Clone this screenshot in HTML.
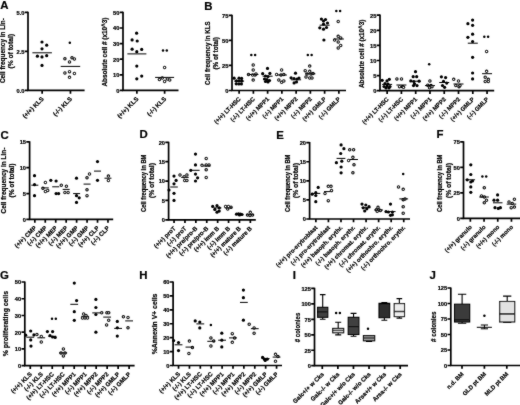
<!DOCTYPE html>
<html><head><meta charset="utf-8"><style>
html,body{margin:0;padding:0;background:#fff;width:520px;height:405px;overflow:hidden}
svg{display:block;filter:grayscale(1)}
text{stroke:#000;stroke-width:0.22px}
</style></head><body>
<svg width="520" height="405" viewBox="0 0 520 405" font-family='"Liberation Sans", sans-serif' font-weight="bold" fill="#000">
<defs><filter id="bl" x="0" y="0" width="1" height="1"><feConvolveMatrix order="3" kernelMatrix="1 2 1 2 28 2 1 2 1" edgeMode="duplicate" preserveAlpha="false"/></filter></defs>
<rect width="520" height="405" fill="#fff"/>
<g filter="url(#bl)">
<text x="0.2" y="9.3" font-size="11.4" >A</text>
<text transform="translate(4.8 50.6) rotate(-90)" font-size="6.5" text-anchor="middle" textLength="65" lengthAdjust="spacingAndGlyphs">Cell frequency in Lin-</text>
<text transform="translate(13.4 51.3) rotate(-90)" font-size="6.5" text-anchor="middle" textLength="34.6" lengthAdjust="spacingAndGlyphs">(% of total)</text>
<path d="M28 11.8V90.4H84.6" fill="none" stroke="#000" stroke-width="1.7"/>
<path d="M24.7 90.4H28M24.7 51.4H28M24.7 12.4H28M42.15 90.4V93.7M70.45 90.4V93.7" fill="none" stroke="#000" stroke-width="1.7"/>
<text x="24.4" y="92.7" font-size="5.7" text-anchor="end">0.0</text>
<text x="24.4" y="53.7" font-size="5.7" text-anchor="end">2.5</text>
<text x="24.4" y="14.7" font-size="5.7" text-anchor="end">5.0</text>
<text transform="translate(44.15 99.4) rotate(-45)" font-size="6.2" text-anchor="end">(+/+) KLS</text>
<text transform="translate(72.45 99.4) rotate(-45)" font-size="6.2" text-anchor="end">(-/-) KLS</text>
<circle cx="42" cy="42" r="1.6" fill="#000"/>
<circle cx="46.7" cy="45.2" r="1.6" fill="#000"/>
<circle cx="42" cy="48.8" r="1.6" fill="#000"/>
<circle cx="37.4" cy="56.2" r="1.6" fill="#000"/>
<circle cx="42" cy="56.9" r="1.6" fill="#000"/>
<circle cx="46.7" cy="55.7" r="1.6" fill="#000"/>
<circle cx="42" cy="65.4" r="1.6" fill="#000"/>
<path d="M32.4 52.8H51.9" stroke="#000" stroke-width="1.0"/>
<circle cx="64.9" cy="58.8" r="1.2" fill="#fff" stroke="#000" stroke-width="1.1"/>
<circle cx="72" cy="57.8" r="1.2" fill="#fff" stroke="#000" stroke-width="1.1"/>
<circle cx="74.4" cy="59" r="1.2" fill="#fff" stroke="#000" stroke-width="1.1"/>
<circle cx="69.5" cy="61.9" r="1.2" fill="#fff" stroke="#000" stroke-width="1.1"/>
<circle cx="64.9" cy="73" r="1.2" fill="#fff" stroke="#000" stroke-width="1.1"/>
<circle cx="69.5" cy="71.7" r="1.2" fill="#fff" stroke="#000" stroke-width="1.1"/>
<circle cx="74.4" cy="73.5" r="1.2" fill="#fff" stroke="#000" stroke-width="1.1"/>
<circle cx="69.5" cy="77.3" r="1.2" fill="#fff" stroke="#000" stroke-width="1.1"/>
<path d="M60.7 66.4H80.2" stroke="#000" stroke-width="1.0"/>
<circle cx="69.8" cy="42.7" r="1.25" fill="#000"/>
<text transform="translate(107.3 52) rotate(-90)" font-size="6.5" text-anchor="middle" textLength="69" lengthAdjust="spacingAndGlyphs">Absolute cell # (x10^3)</text>
<path d="M123 11.8V90.4H178.5" fill="none" stroke="#000" stroke-width="1.7"/>
<path d="M119.7 90.4H123M119.7 74.8H123M119.7 59.2H123M119.7 43.6H123M119.7 28H123M119.7 12.4H123M136.88 90.4V93.7M164.62 90.4V93.7" fill="none" stroke="#000" stroke-width="1.7"/>
<text x="119.4" y="92.7" font-size="5.7" text-anchor="end">0</text>
<text x="119.4" y="77.1" font-size="5.7" text-anchor="end">10</text>
<text x="119.4" y="61.5" font-size="5.7" text-anchor="end">20</text>
<text x="119.4" y="45.9" font-size="5.7" text-anchor="end">30</text>
<text x="119.4" y="30.3" font-size="5.7" text-anchor="end">40</text>
<text x="119.4" y="14.7" font-size="5.7" text-anchor="end">50</text>
<text transform="translate(138.88 99.4) rotate(-45)" font-size="6.2" text-anchor="end">(+/+) KLS</text>
<text transform="translate(166.62 99.4) rotate(-45)" font-size="6.2" text-anchor="end">(-/-) KLS</text>
<circle cx="136.6" cy="33.2" r="1.6" fill="#000"/>
<circle cx="132.1" cy="39.9" r="1.6" fill="#000"/>
<circle cx="137.2" cy="41" r="1.6" fill="#000"/>
<circle cx="132.1" cy="49.2" r="1.6" fill="#000"/>
<circle cx="136.8" cy="51.7" r="1.6" fill="#000"/>
<circle cx="141.7" cy="49.4" r="1.6" fill="#000"/>
<circle cx="136.8" cy="66.1" r="1.6" fill="#000"/>
<circle cx="136.8" cy="78.8" r="1.6" fill="#000"/>
<circle cx="141.7" cy="76.1" r="1.6" fill="#000"/>
<path d="M127.38 53.9H146.38" stroke="#000" stroke-width="1.0"/>
<circle cx="164.6" cy="67.5" r="1.2" fill="#fff" stroke="#000" stroke-width="1.1"/>
<circle cx="159.4" cy="79.6" r="1.2" fill="#fff" stroke="#000" stroke-width="1.1"/>
<circle cx="162.3" cy="78.1" r="1.2" fill="#fff" stroke="#000" stroke-width="1.1"/>
<circle cx="164.6" cy="81.5" r="1.2" fill="#fff" stroke="#000" stroke-width="1.1"/>
<circle cx="167.3" cy="79" r="1.2" fill="#fff" stroke="#000" stroke-width="1.1"/>
<circle cx="169.7" cy="80" r="1.2" fill="#fff" stroke="#000" stroke-width="1.1"/>
<path d="M155.12 77.4H174.12" stroke="#000" stroke-width="1.0"/>
<circle cx="163" cy="50.4" r="1.25" fill="#000"/>
<circle cx="166.8" cy="50.4" r="1.25" fill="#000"/>
<text x="204.2" y="9.6" font-size="11.4" >B</text>
<text transform="translate(210.4 53.2) rotate(-90)" font-size="6.5" text-anchor="middle" textLength="63.5" lengthAdjust="spacingAndGlyphs">Cell frequency in KLS</text>
<text transform="translate(218.3 53.3) rotate(-90)" font-size="6.5" text-anchor="middle" textLength="32.5" lengthAdjust="spacingAndGlyphs">(% of total)</text>
<path d="M232 14.8V90.5H346" fill="none" stroke="#000" stroke-width="1.7"/>
<path d="M228.7 90.5H232M228.7 65.47H232M228.7 40.43H232M228.7 15.4H232M239.12 90.5V93.8M253.38 90.5V93.8M267.62 90.5V93.8M281.88 90.5V93.8M296.12 90.5V93.8M310.38 90.5V93.8M324.62 90.5V93.8M338.88 90.5V93.8" fill="none" stroke="#000" stroke-width="1.7"/>
<text x="228.4" y="92.8" font-size="5.7" text-anchor="end">0</text>
<text x="228.4" y="67.77" font-size="5.7" text-anchor="end">25</text>
<text x="228.4" y="42.73" font-size="5.7" text-anchor="end">50</text>
<text x="228.4" y="17.7" font-size="5.7" text-anchor="end">75</text>
<text transform="translate(241.12 99.5) rotate(-45)" font-size="5.9" text-anchor="end">(+/+) LT-HSC</text>
<text transform="translate(255.38 99.5) rotate(-45)" font-size="5.9" text-anchor="end">(-/-) LT-HSC</text>
<text transform="translate(269.62 99.5) rotate(-45)" font-size="5.9" text-anchor="end">(+/+) MPP1</text>
<text transform="translate(283.88 99.5) rotate(-45)" font-size="5.9" text-anchor="end">(-/-) MPP1</text>
<text transform="translate(298.12 99.5) rotate(-45)" font-size="5.9" text-anchor="end">(+/+) MPP2</text>
<text transform="translate(312.38 99.5) rotate(-45)" font-size="5.9" text-anchor="end">(-/-) MPP2</text>
<text transform="translate(326.62 99.5) rotate(-45)" font-size="5.9" text-anchor="end">(+/+) GMLP</text>
<text transform="translate(340.88 99.5) rotate(-45)" font-size="5.9" text-anchor="end">(-/-) GMLP</text>
<circle cx="234.1" cy="78.2" r="1.6" fill="#000"/>
<circle cx="239" cy="78.2" r="1.6" fill="#000"/>
<circle cx="241.6" cy="78.4" r="1.6" fill="#000"/>
<circle cx="236.5" cy="80.9" r="1.6" fill="#000"/>
<circle cx="239.2" cy="81" r="1.6" fill="#000"/>
<circle cx="241.8" cy="81" r="1.6" fill="#000"/>
<circle cx="236.2" cy="83.8" r="1.6" fill="#000"/>
<circle cx="238.8" cy="84" r="1.6" fill="#000"/>
<circle cx="241.4" cy="83.9" r="1.6" fill="#000"/>
<path d="M234.12 81.1H244.12" stroke="#000" stroke-width="1.0"/>
<circle cx="253.2" cy="65" r="1.2" fill="#fff" stroke="#000" stroke-width="1.1"/>
<circle cx="253.2" cy="70" r="1.2" fill="#fff" stroke="#000" stroke-width="1.1"/>
<circle cx="248.5" cy="74.5" r="1.2" fill="#fff" stroke="#000" stroke-width="1.1"/>
<circle cx="252.6" cy="75" r="1.2" fill="#fff" stroke="#000" stroke-width="1.1"/>
<circle cx="255" cy="75" r="1.2" fill="#fff" stroke="#000" stroke-width="1.1"/>
<circle cx="256" cy="74" r="1.2" fill="#fff" stroke="#000" stroke-width="1.1"/>
<circle cx="253.2" cy="80.1" r="1.2" fill="#fff" stroke="#000" stroke-width="1.1"/>
<path d="M248.38 74.5H258.38" stroke="#000" stroke-width="1.0"/>
<circle cx="251.3" cy="55" r="1.25" fill="#000"/>
<circle cx="255.1" cy="55" r="1.25" fill="#000"/>
<circle cx="267.5" cy="68.4" r="1.6" fill="#000"/>
<circle cx="262.7" cy="73.7" r="1.6" fill="#000"/>
<circle cx="269.9" cy="73.4" r="1.6" fill="#000"/>
<circle cx="265.5" cy="76" r="1.6" fill="#000"/>
<circle cx="268" cy="76.5" r="1.6" fill="#000"/>
<circle cx="264.5" cy="79" r="1.6" fill="#000"/>
<circle cx="267" cy="79.5" r="1.6" fill="#000"/>
<circle cx="269.5" cy="80.5" r="1.6" fill="#000"/>
<circle cx="265.5" cy="81.5" r="1.6" fill="#000"/>
<circle cx="268" cy="82" r="1.6" fill="#000"/>
<path d="M262.62 76.2H272.62" stroke="#000" stroke-width="1.0"/>
<circle cx="281.6" cy="70" r="1.2" fill="#fff" stroke="#000" stroke-width="1.1"/>
<circle cx="276.6" cy="74.5" r="1.2" fill="#fff" stroke="#000" stroke-width="1.1"/>
<circle cx="281" cy="75" r="1.2" fill="#fff" stroke="#000" stroke-width="1.1"/>
<circle cx="283.8" cy="74.5" r="1.2" fill="#fff" stroke="#000" stroke-width="1.1"/>
<circle cx="278.8" cy="80" r="1.2" fill="#fff" stroke="#000" stroke-width="1.1"/>
<circle cx="281.6" cy="82.3" r="1.2" fill="#fff" stroke="#000" stroke-width="1.1"/>
<circle cx="283.8" cy="81" r="1.2" fill="#fff" stroke="#000" stroke-width="1.1"/>
<path d="M276.88 75H286.88" stroke="#000" stroke-width="1.0"/>
<circle cx="295.5" cy="73.2" r="1.6" fill="#000"/>
<circle cx="291.1" cy="77.8" r="1.6" fill="#000"/>
<circle cx="294" cy="78.5" r="1.6" fill="#000"/>
<circle cx="297" cy="79" r="1.6" fill="#000"/>
<circle cx="299" cy="78" r="1.6" fill="#000"/>
<circle cx="294.1" cy="82.9" r="1.6" fill="#000"/>
<circle cx="296.5" cy="82" r="1.6" fill="#000"/>
<path d="M291.12 79.8H301.12" stroke="#000" stroke-width="1.0"/>
<circle cx="309.7" cy="66.1" r="1.2" fill="#fff" stroke="#000" stroke-width="1.1"/>
<circle cx="305.2" cy="70.7" r="1.2" fill="#fff" stroke="#000" stroke-width="1.1"/>
<circle cx="309.7" cy="71.3" r="1.2" fill="#fff" stroke="#000" stroke-width="1.1"/>
<circle cx="307" cy="74" r="1.2" fill="#fff" stroke="#000" stroke-width="1.1"/>
<circle cx="311" cy="74" r="1.2" fill="#fff" stroke="#000" stroke-width="1.1"/>
<circle cx="313" cy="73.5" r="1.2" fill="#fff" stroke="#000" stroke-width="1.1"/>
<circle cx="306" cy="77" r="1.2" fill="#fff" stroke="#000" stroke-width="1.1"/>
<circle cx="309.7" cy="78" r="1.2" fill="#fff" stroke="#000" stroke-width="1.1"/>
<circle cx="312" cy="78" r="1.2" fill="#fff" stroke="#000" stroke-width="1.1"/>
<path d="M305.38 73.8H315.38" stroke="#000" stroke-width="1.0"/>
<circle cx="307.8" cy="54.9" r="1.25" fill="#000"/>
<circle cx="311.6" cy="54.9" r="1.25" fill="#000"/>
<circle cx="321.4" cy="19.1" r="1.6" fill="#000"/>
<circle cx="325.5" cy="19.5" r="1.6" fill="#000"/>
<circle cx="323.5" cy="21" r="1.6" fill="#000"/>
<circle cx="327.5" cy="23" r="1.6" fill="#000"/>
<circle cx="323.5" cy="24.2" r="1.6" fill="#000"/>
<circle cx="319.8" cy="27.8" r="1.6" fill="#000"/>
<circle cx="323.5" cy="29.2" r="1.6" fill="#000"/>
<circle cx="326.5" cy="27.5" r="1.6" fill="#000"/>
<circle cx="323.9" cy="40" r="1.6" fill="#000"/>
<path d="M319.62 25.2H329.62" stroke="#000" stroke-width="1.0"/>
<circle cx="338.2" cy="21.5" r="1.2" fill="#fff" stroke="#000" stroke-width="1.1"/>
<circle cx="338.2" cy="36.3" r="1.2" fill="#fff" stroke="#000" stroke-width="1.1"/>
<circle cx="334.6" cy="40" r="1.2" fill="#fff" stroke="#000" stroke-width="1.1"/>
<circle cx="340.7" cy="37.9" r="1.2" fill="#fff" stroke="#000" stroke-width="1.1"/>
<circle cx="338.2" cy="42" r="1.2" fill="#fff" stroke="#000" stroke-width="1.1"/>
<circle cx="340.7" cy="45.4" r="1.2" fill="#fff" stroke="#000" stroke-width="1.1"/>
<circle cx="338.2" cy="48" r="1.2" fill="#fff" stroke="#000" stroke-width="1.1"/>
<path d="M333.88 39H343.88" stroke="#000" stroke-width="1.0"/>
<circle cx="336.3" cy="11" r="1.25" fill="#000"/>
<circle cx="340.1" cy="11" r="1.25" fill="#000"/>
<text transform="translate(363.5 53.8) rotate(-90)" font-size="6.5" text-anchor="middle" textLength="68.5" lengthAdjust="spacingAndGlyphs">Absolute cell # (x10^3)</text>
<path d="M380 14.6V90.7H494.2" fill="none" stroke="#000" stroke-width="1.7"/>
<path d="M376.7 90.7H380M376.7 75.6H380M376.7 60.5H380M376.7 45.4H380M376.7 30.3H380M376.7 15.2H380M387.14 90.7V94M401.41 90.7V94M415.69 90.7V94M429.96 90.7V94M444.24 90.7V94M458.51 90.7V94M472.79 90.7V94M487.06 90.7V94" fill="none" stroke="#000" stroke-width="1.7"/>
<text x="376.4" y="93" font-size="5.7" text-anchor="end">0</text>
<text x="376.4" y="77.9" font-size="5.7" text-anchor="end">5</text>
<text x="376.4" y="62.8" font-size="5.7" text-anchor="end">10</text>
<text x="376.4" y="47.7" font-size="5.7" text-anchor="end">15</text>
<text x="376.4" y="32.6" font-size="5.7" text-anchor="end">20</text>
<text x="376.4" y="17.5" font-size="5.7" text-anchor="end">25</text>
<text transform="translate(389.14 99.7) rotate(-45)" font-size="5.9" text-anchor="end">(+/+) LT-HSC</text>
<text transform="translate(403.41 99.7) rotate(-45)" font-size="5.9" text-anchor="end">(-/-) LT-HSC</text>
<text transform="translate(417.69 99.7) rotate(-45)" font-size="5.9" text-anchor="end">(+/+) MPP1</text>
<text transform="translate(431.96 99.7) rotate(-45)" font-size="5.9" text-anchor="end">(-/-) MPP1</text>
<text transform="translate(446.24 99.7) rotate(-45)" font-size="5.9" text-anchor="end">(+/+) MPP2</text>
<text transform="translate(460.51 99.7) rotate(-45)" font-size="5.9" text-anchor="end">(-/-) MPP2</text>
<text transform="translate(474.79 99.7) rotate(-45)" font-size="5.9" text-anchor="end">(+/+) GMLP</text>
<text transform="translate(489.06 99.7) rotate(-45)" font-size="5.9" text-anchor="end">(-/-) GMLP</text>
<circle cx="382.2" cy="80.3" r="1.6" fill="#000"/>
<circle cx="387" cy="80.9" r="1.6" fill="#000"/>
<circle cx="389.3" cy="79.3" r="1.6" fill="#000"/>
<circle cx="385" cy="83.5" r="1.6" fill="#000"/>
<circle cx="388" cy="84" r="1.6" fill="#000"/>
<circle cx="384" cy="86.5" r="1.6" fill="#000"/>
<circle cx="387" cy="86.2" r="1.6" fill="#000"/>
<circle cx="390" cy="86.5" r="1.6" fill="#000"/>
<circle cx="386" cy="88" r="1.6" fill="#000"/>
<circle cx="389" cy="88" r="1.6" fill="#000"/>
<path d="M382.14 84.4H392.14" stroke="#000" stroke-width="1.0"/>
<circle cx="396.9" cy="78.9" r="1.2" fill="#fff" stroke="#000" stroke-width="1.1"/>
<circle cx="401.5" cy="78.9" r="1.2" fill="#fff" stroke="#000" stroke-width="1.1"/>
<circle cx="399.5" cy="86.7" r="1.2" fill="#fff" stroke="#000" stroke-width="1.1"/>
<circle cx="402.5" cy="86.7" r="1.2" fill="#fff" stroke="#000" stroke-width="1.1"/>
<circle cx="403.6" cy="87.3" r="1.2" fill="#fff" stroke="#000" stroke-width="1.1"/>
<path d="M396.41 85H406.41" stroke="#000" stroke-width="1.0"/>
<circle cx="415.5" cy="71.7" r="1.6" fill="#000"/>
<circle cx="413.2" cy="76.7" r="1.6" fill="#000"/>
<circle cx="416.7" cy="76.7" r="1.6" fill="#000"/>
<circle cx="410.8" cy="80.9" r="1.6" fill="#000"/>
<circle cx="413.8" cy="81.5" r="1.6" fill="#000"/>
<circle cx="419.1" cy="81.2" r="1.6" fill="#000"/>
<circle cx="414.5" cy="83.8" r="1.6" fill="#000"/>
<circle cx="413.5" cy="85.6" r="1.6" fill="#000"/>
<circle cx="417" cy="85.6" r="1.6" fill="#000"/>
<path d="M410.69 81.2H420.69" stroke="#000" stroke-width="1.0"/>
<circle cx="429.9" cy="81" r="1.2" fill="#fff" stroke="#000" stroke-width="1.1"/>
<circle cx="427.8" cy="85.2" r="1.2" fill="#fff" stroke="#000" stroke-width="1.1"/>
<circle cx="431" cy="85.6" r="1.2" fill="#fff" stroke="#000" stroke-width="1.1"/>
<circle cx="432" cy="86.7" r="1.2" fill="#fff" stroke="#000" stroke-width="1.1"/>
<circle cx="429.5" cy="87.8" r="1.2" fill="#fff" stroke="#000" stroke-width="1.1"/>
<path d="M424.96 85.6H434.96" stroke="#000" stroke-width="1.0"/>
<circle cx="429.2" cy="64.2" r="1.25" fill="#000"/>
<circle cx="441.4" cy="76.8" r="1.6" fill="#000"/>
<circle cx="445.6" cy="77.6" r="1.6" fill="#000"/>
<circle cx="443.5" cy="81.4" r="1.6" fill="#000"/>
<circle cx="446.7" cy="83.1" r="1.6" fill="#000"/>
<circle cx="442.5" cy="85.6" r="1.6" fill="#000"/>
<circle cx="444.6" cy="87.3" r="1.6" fill="#000"/>
<path d="M439.24 82.5H449.24" stroke="#000" stroke-width="1.0"/>
<circle cx="453.7" cy="79.3" r="1.2" fill="#fff" stroke="#000" stroke-width="1.1"/>
<circle cx="458.5" cy="81" r="1.2" fill="#fff" stroke="#000" stroke-width="1.1"/>
<circle cx="455.8" cy="85.6" r="1.2" fill="#fff" stroke="#000" stroke-width="1.1"/>
<circle cx="459" cy="86.7" r="1.2" fill="#fff" stroke="#000" stroke-width="1.1"/>
<circle cx="460" cy="85.6" r="1.2" fill="#fff" stroke="#000" stroke-width="1.1"/>
<path d="M453.51 84H463.51" stroke="#000" stroke-width="1.0"/>
<circle cx="472.6" cy="20.1" r="1.6" fill="#000"/>
<circle cx="467.9" cy="23.7" r="1.6" fill="#000"/>
<circle cx="472.6" cy="25.3" r="1.6" fill="#000"/>
<circle cx="472.6" cy="34.2" r="1.6" fill="#000"/>
<circle cx="467.9" cy="37.3" r="1.6" fill="#000"/>
<circle cx="472.6" cy="41.5" r="1.6" fill="#000"/>
<circle cx="472.6" cy="57.3" r="1.6" fill="#000"/>
<circle cx="472.6" cy="73" r="1.6" fill="#000"/>
<circle cx="472.6" cy="78.9" r="1.6" fill="#000"/>
<path d="M467.79 43.2H477.79" stroke="#000" stroke-width="1.0"/>
<circle cx="486.6" cy="51.4" r="1.2" fill="#fff" stroke="#000" stroke-width="1.1"/>
<circle cx="486.6" cy="71.3" r="1.2" fill="#fff" stroke="#000" stroke-width="1.1"/>
<circle cx="485.2" cy="77.2" r="1.2" fill="#fff" stroke="#000" stroke-width="1.1"/>
<circle cx="488.3" cy="79.3" r="1.2" fill="#fff" stroke="#000" stroke-width="1.1"/>
<circle cx="485.2" cy="81.4" r="1.2" fill="#fff" stroke="#000" stroke-width="1.1"/>
<circle cx="488.3" cy="81.4" r="1.2" fill="#fff" stroke="#000" stroke-width="1.1"/>
<path d="M482.06 73.7H492.06" stroke="#000" stroke-width="1.0"/>
<circle cx="484.3" cy="36.7" r="1.25" fill="#000"/>
<circle cx="488.1" cy="36.7" r="1.25" fill="#000"/>
<text x="0.5" y="138.7" font-size="11.4" >C</text>
<text transform="translate(5.6 180.5) rotate(-90)" font-size="6.5" text-anchor="middle" textLength="66" lengthAdjust="spacingAndGlyphs">Cell frequency in Lin-</text>
<text transform="translate(14.4 180.5) rotate(-90)" font-size="6.5" text-anchor="middle" textLength="34" lengthAdjust="spacingAndGlyphs">(% of total)</text>
<path d="M29.6 141.2V219.4H113.2" fill="none" stroke="#000" stroke-width="1.7"/>
<path d="M26.3 219.4H29.6M26.3 193.53H29.6M26.3 167.67H29.6M26.3 141.8H29.6M34.83 219.4V222.7M45.27 219.4V222.7M55.73 219.4V222.7M66.17 219.4V222.7M76.62 219.4V222.7M87.07 219.4V222.7M97.53 219.4V222.7M107.97 219.4V222.7" fill="none" stroke="#000" stroke-width="1.7"/>
<text x="26" y="221.7" font-size="5.7" text-anchor="end">0</text>
<text x="26" y="195.83" font-size="5.7" text-anchor="end">5</text>
<text x="26" y="169.97" font-size="5.7" text-anchor="end">10</text>
<text x="26" y="144.1" font-size="5.7" text-anchor="end">15</text>
<text transform="translate(36.83 228.4) rotate(-45)" font-size="6.1" text-anchor="end">(+/+) CMP</text>
<text transform="translate(47.27 228.4) rotate(-45)" font-size="6.1" text-anchor="end">(-/-) CMP</text>
<text transform="translate(57.73 228.4) rotate(-45)" font-size="6.1" text-anchor="end">(+/+) MEP</text>
<text transform="translate(68.17 228.4) rotate(-45)" font-size="6.1" text-anchor="end">(-/-) MEP</text>
<text transform="translate(78.62 228.4) rotate(-45)" font-size="6.1" text-anchor="end">(+/+) GMP</text>
<text transform="translate(89.07 228.4) rotate(-45)" font-size="6.1" text-anchor="end">(-/-) GMP</text>
<text transform="translate(99.53 228.4) rotate(-45)" font-size="6.1" text-anchor="end">(+/+) CLP</text>
<text transform="translate(109.97 228.4) rotate(-45)" font-size="6.1" text-anchor="end">(-/-) CLP</text>
<circle cx="34.5" cy="175.7" r="1.6" fill="#000"/>
<circle cx="34.5" cy="184.7" r="1.6" fill="#000"/>
<circle cx="34.5" cy="195.7" r="1.6" fill="#000"/>
<path d="M31.33 185.2H38.33" stroke="#000" stroke-width="1.0"/>
<circle cx="45.4" cy="182.4" r="1.2" fill="#fff" stroke="#000" stroke-width="1.1"/>
<circle cx="42.9" cy="188.3" r="1.2" fill="#fff" stroke="#000" stroke-width="1.1"/>
<circle cx="45.4" cy="191.5" r="1.2" fill="#fff" stroke="#000" stroke-width="1.1"/>
<circle cx="47.7" cy="190.4" r="1.2" fill="#fff" stroke="#000" stroke-width="1.1"/>
<path d="M41.77 187.9H48.77" stroke="#000" stroke-width="1.0"/>
<circle cx="50.8" cy="180.3" r="1.6" fill="#000"/>
<circle cx="56.1" cy="181" r="1.6" fill="#000"/>
<circle cx="56.1" cy="193.6" r="1.6" fill="#000"/>
<circle cx="58.6" cy="193.6" r="1.6" fill="#000"/>
<path d="M52.23 186.8H59.23" stroke="#000" stroke-width="1.0"/>
<circle cx="61.3" cy="185.2" r="1.2" fill="#fff" stroke="#000" stroke-width="1.1"/>
<circle cx="66.4" cy="186.2" r="1.2" fill="#fff" stroke="#000" stroke-width="1.1"/>
<circle cx="64.9" cy="192.5" r="1.2" fill="#fff" stroke="#000" stroke-width="1.1"/>
<circle cx="68.1" cy="192.5" r="1.2" fill="#fff" stroke="#000" stroke-width="1.1"/>
<path d="M62.67 189.4H69.67" stroke="#000" stroke-width="1.0"/>
<circle cx="76.5" cy="178.2" r="1.6" fill="#000"/>
<circle cx="76.5" cy="195.7" r="1.6" fill="#000"/>
<circle cx="79.2" cy="197.8" r="1.6" fill="#000"/>
<circle cx="76.5" cy="202.4" r="1.6" fill="#000"/>
<path d="M73.12 193.6H80.12" stroke="#000" stroke-width="1.0"/>
<circle cx="89.5" cy="174" r="1.2" fill="#fff" stroke="#000" stroke-width="1.1"/>
<circle cx="87" cy="177.8" r="1.2" fill="#fff" stroke="#000" stroke-width="1.1"/>
<circle cx="87" cy="189.8" r="1.2" fill="#fff" stroke="#000" stroke-width="1.1"/>
<circle cx="87" cy="195.7" r="1.2" fill="#fff" stroke="#000" stroke-width="1.1"/>
<path d="M83.57 184.1H90.57" stroke="#000" stroke-width="1.0"/>
<circle cx="97.5" cy="161.6" r="1.6" fill="#000"/>
<circle cx="97.5" cy="180.3" r="1.6" fill="#000"/>
<path d="M94.03 171.1H101.03" stroke="#000" stroke-width="1.0"/>
<circle cx="108.4" cy="176.1" r="1.2" fill="#fff" stroke="#000" stroke-width="1.1"/>
<circle cx="108.4" cy="180.5" r="1.2" fill="#fff" stroke="#000" stroke-width="1.1"/>
<path d="M104.47 178.2H111.47" stroke="#000" stroke-width="1.0"/>
<text x="139.6" y="138.4" font-size="11.4" >D</text>
<text transform="translate(145.5 183.3) rotate(-90)" font-size="6.5" text-anchor="middle" textLength="57.5" lengthAdjust="spacingAndGlyphs">Cell frequency in BM</text>
<text transform="translate(154.3 180.6) rotate(-90)" font-size="6.5" text-anchor="middle" textLength="35" lengthAdjust="spacingAndGlyphs">(% of total)</text>
<path d="M168.6 141.7V219.8H255.8" fill="none" stroke="#000" stroke-width="1.7"/>
<path d="M165.3 219.8H168.6M165.3 200.43H168.6M165.3 181.05H168.6M165.3 161.68H168.6M165.3 142.3H168.6M174.05 219.8V223.1M184.95 219.8V223.1M195.85 219.8V223.1M206.75 219.8V223.1M217.65 219.8V223.1M228.55 219.8V223.1M239.45 219.8V223.1M250.35 219.8V223.1" fill="none" stroke="#000" stroke-width="1.7"/>
<text x="165" y="222.1" font-size="5.7" text-anchor="end">0</text>
<text x="165" y="202.73" font-size="5.7" text-anchor="end">5</text>
<text x="165" y="183.35" font-size="5.7" text-anchor="end">10</text>
<text x="165" y="163.98" font-size="5.7" text-anchor="end">15</text>
<text x="165" y="144.6" font-size="5.7" text-anchor="end">20</text>
<text transform="translate(176.05 228.8) rotate(-45)" font-size="6.05" text-anchor="end">(+/+) proT</text>
<text transform="translate(186.95 228.8) rotate(-45)" font-size="6.05" text-anchor="end">(-/-) proT</text>
<text transform="translate(197.85 228.8) rotate(-45)" font-size="6.05" text-anchor="end">(+/+) pre/pro-B</text>
<text transform="translate(208.75 228.8) rotate(-45)" font-size="6.05" text-anchor="end">(-/-) pre/pro-B</text>
<text transform="translate(219.65 228.8) rotate(-45)" font-size="6.05" text-anchor="end">(+/+) imm B</text>
<text transform="translate(230.55 228.8) rotate(-45)" font-size="6.05" text-anchor="end">(-/-) imm B</text>
<text transform="translate(241.45 228.8) rotate(-45)" font-size="6.05" text-anchor="end">(+/+) mature B</text>
<text transform="translate(252.35 228.8) rotate(-45)" font-size="6.05" text-anchor="end">(-/-) mature B</text>
<circle cx="169" cy="190" r="1.6" fill="#000"/>
<circle cx="174" cy="176.1" r="1.6" fill="#000"/>
<circle cx="176.1" cy="180.4" r="1.6" fill="#000"/>
<circle cx="174" cy="183.8" r="1.6" fill="#000"/>
<circle cx="174" cy="193.3" r="1.6" fill="#000"/>
<circle cx="174" cy="200.4" r="1.6" fill="#000"/>
<path d="M170.3 187H177.8" stroke="#000" stroke-width="1.0"/>
<circle cx="180" cy="175" r="1.2" fill="#fff" stroke="#000" stroke-width="1.1"/>
<circle cx="184.1" cy="176.7" r="1.2" fill="#fff" stroke="#000" stroke-width="1.1"/>
<circle cx="186.9" cy="175" r="1.2" fill="#fff" stroke="#000" stroke-width="1.1"/>
<circle cx="184.7" cy="180.4" r="1.2" fill="#fff" stroke="#000" stroke-width="1.1"/>
<circle cx="186.9" cy="180.4" r="1.2" fill="#fff" stroke="#000" stroke-width="1.1"/>
<path d="M181.2 177.4H188.7" stroke="#000" stroke-width="1.0"/>
<circle cx="195.5" cy="154.1" r="1.6" fill="#000"/>
<circle cx="195.5" cy="164.9" r="1.6" fill="#000"/>
<circle cx="190.8" cy="170.3" r="1.6" fill="#000"/>
<circle cx="195.5" cy="174.1" r="1.6" fill="#000"/>
<circle cx="197.6" cy="177.8" r="1.6" fill="#000"/>
<circle cx="195.5" cy="181" r="1.6" fill="#000"/>
<path d="M192.1 170.3H199.6" stroke="#000" stroke-width="1.0"/>
<circle cx="206.2" cy="158.4" r="1.2" fill="#fff" stroke="#000" stroke-width="1.1"/>
<circle cx="202" cy="165.3" r="1.2" fill="#fff" stroke="#000" stroke-width="1.1"/>
<circle cx="206.2" cy="165" r="1.2" fill="#fff" stroke="#000" stroke-width="1.1"/>
<circle cx="209" cy="164.9" r="1.2" fill="#fff" stroke="#000" stroke-width="1.1"/>
<circle cx="206.2" cy="169.8" r="1.2" fill="#fff" stroke="#000" stroke-width="1.1"/>
<circle cx="206.2" cy="177.4" r="1.2" fill="#fff" stroke="#000" stroke-width="1.1"/>
<path d="M203 166H210.5" stroke="#000" stroke-width="1.0"/>
<circle cx="212.7" cy="206.4" r="1.6" fill="#000"/>
<circle cx="217" cy="205.7" r="1.6" fill="#000"/>
<circle cx="219.2" cy="207.9" r="1.6" fill="#000"/>
<circle cx="214.8" cy="209.4" r="1.6" fill="#000"/>
<circle cx="217" cy="212.2" r="1.6" fill="#000"/>
<circle cx="219.2" cy="211.1" r="1.6" fill="#000"/>
<path d="M213.9 207.9H221.4" stroke="#000" stroke-width="1.0"/>
<circle cx="225.6" cy="206.4" r="1.2" fill="#fff" stroke="#000" stroke-width="1.1"/>
<circle cx="228.4" cy="206.4" r="1.2" fill="#fff" stroke="#000" stroke-width="1.1"/>
<circle cx="231" cy="207.2" r="1.2" fill="#fff" stroke="#000" stroke-width="1.1"/>
<circle cx="227.7" cy="209" r="1.2" fill="#fff" stroke="#000" stroke-width="1.1"/>
<path d="M224.8 207.9H232.3" stroke="#000" stroke-width="1.0"/>
<circle cx="236.5" cy="214.2" r="1.6" fill="#000"/>
<circle cx="238.5" cy="213.8" r="1.6" fill="#000"/>
<circle cx="240.5" cy="214.2" r="1.6" fill="#000"/>
<circle cx="242" cy="214.5" r="1.6" fill="#000"/>
<circle cx="239.5" cy="215" r="1.6" fill="#000"/>
<path d="M235.7 214.5H243.2" stroke="#000" stroke-width="1.0"/>
<circle cx="247.5" cy="215" r="1.2" fill="#fff" stroke="#000" stroke-width="1.1"/>
<circle cx="250.3" cy="212.3" r="1.2" fill="#fff" stroke="#000" stroke-width="1.1"/>
<circle cx="252.5" cy="215" r="1.2" fill="#fff" stroke="#000" stroke-width="1.1"/>
<circle cx="250" cy="215.5" r="1.2" fill="#fff" stroke="#000" stroke-width="1.1"/>
<path d="M246.6 214.8H254.1" stroke="#000" stroke-width="1.0"/>
<text x="276.2" y="138.7" font-size="11.4" >E</text>
<text transform="translate(289.6 183.3) rotate(-90)" font-size="6.5" text-anchor="middle" textLength="57.5" lengthAdjust="spacingAndGlyphs">Cell frequency in BM</text>
<text transform="translate(298.2 180.6) rotate(-90)" font-size="6.5" text-anchor="middle" textLength="35" lengthAdjust="spacingAndGlyphs">(% of total)</text>
<path d="M309.6 142.1V219H410" fill="none" stroke="#000" stroke-width="1.7"/>
<path d="M306.3 219H309.6M306.3 199.93H309.6M306.3 180.85H309.6M306.3 161.77H309.6M306.3 142.7H309.6M315.88 219V222.3M328.43 219V222.3M340.98 219V222.3M353.53 219V222.3M366.07 219V222.3M378.62 219V222.3M391.18 219V222.3M403.73 219V222.3" fill="none" stroke="#000" stroke-width="1.7"/>
<text x="306" y="221.3" font-size="5.7" text-anchor="end">0</text>
<text x="306" y="202.23" font-size="5.7" text-anchor="end">5</text>
<text x="306" y="183.15" font-size="5.7" text-anchor="end">10</text>
<text x="306" y="164.07" font-size="5.7" text-anchor="end">15</text>
<text x="306" y="145" font-size="5.7" text-anchor="end">20</text>
<text transform="translate(317.88 228) rotate(-45)" font-size="5.9" text-anchor="end">(+/+) pro-erytroblast</text>
<text transform="translate(330.43 228) rotate(-45)" font-size="5.9" text-anchor="end">(-/-) pro-erytroblast</text>
<text transform="translate(342.98 228) rotate(-45)" font-size="5.9" text-anchor="end">(+/+) basoph. erythr.</text>
<text transform="translate(355.53 228) rotate(-45)" font-size="5.9" text-anchor="end">(-/-) basoph. erythr.</text>
<text transform="translate(368.07 228) rotate(-45)" font-size="5.9" text-anchor="end">(+/+) chromat. erythr.</text>
<text transform="translate(380.62 228) rotate(-45)" font-size="5.9" text-anchor="end">(-/-) chromat. erythr.</text>
<text transform="translate(393.18 228) rotate(-45)" font-size="5.9" text-anchor="end">(+/+) orthochro. erythr.</text>
<text transform="translate(405.73 228) rotate(-45)" font-size="5.9" text-anchor="end">(-/-) orthochro. erythr.</text>
<circle cx="312.2" cy="194.2" r="1.6" fill="#000"/>
<circle cx="318.2" cy="187.4" r="1.6" fill="#000"/>
<circle cx="315.8" cy="192.7" r="1.6" fill="#000"/>
<circle cx="315.8" cy="195.5" r="1.6" fill="#000"/>
<circle cx="315.8" cy="201.7" r="1.6" fill="#000"/>
<path d="M311.48 193.4H320.27" stroke="#000" stroke-width="1.0"/>
<circle cx="328.3" cy="186.3" r="1.2" fill="#fff" stroke="#000" stroke-width="1.1"/>
<circle cx="331" cy="186.3" r="1.2" fill="#fff" stroke="#000" stroke-width="1.1"/>
<circle cx="325" cy="193.4" r="1.2" fill="#fff" stroke="#000" stroke-width="1.1"/>
<circle cx="331.5" cy="190.6" r="1.2" fill="#fff" stroke="#000" stroke-width="1.1"/>
<circle cx="328.3" cy="200.7" r="1.2" fill="#fff" stroke="#000" stroke-width="1.1"/>
<path d="M324.03 191.6H332.82" stroke="#000" stroke-width="1.0"/>
<circle cx="341.1" cy="144.9" r="1.6" fill="#000"/>
<circle cx="343.9" cy="148.7" r="1.6" fill="#000"/>
<circle cx="340.7" cy="153.5" r="1.6" fill="#000"/>
<circle cx="336.4" cy="162.7" r="1.6" fill="#000"/>
<circle cx="341.8" cy="161.2" r="1.6" fill="#000"/>
<circle cx="341.1" cy="167" r="1.6" fill="#000"/>
<circle cx="341.1" cy="172.8" r="1.6" fill="#000"/>
<path d="M336.58 158.4H345.38" stroke="#000" stroke-width="1.0"/>
<circle cx="349.7" cy="149.8" r="1.2" fill="#fff" stroke="#000" stroke-width="1.1"/>
<circle cx="353.6" cy="149.8" r="1.2" fill="#fff" stroke="#000" stroke-width="1.1"/>
<circle cx="352.9" cy="157.3" r="1.2" fill="#fff" stroke="#000" stroke-width="1.1"/>
<circle cx="348.6" cy="160.5" r="1.2" fill="#fff" stroke="#000" stroke-width="1.1"/>
<circle cx="354" cy="164.8" r="1.2" fill="#fff" stroke="#000" stroke-width="1.1"/>
<circle cx="352.9" cy="172.8" r="1.2" fill="#fff" stroke="#000" stroke-width="1.1"/>
<path d="M349.13 159.5H357.93" stroke="#000" stroke-width="1.0"/>
<circle cx="362" cy="204.1" r="1.6" fill="#000"/>
<circle cx="365.8" cy="205" r="1.6" fill="#000"/>
<circle cx="369" cy="206.7" r="1.6" fill="#000"/>
<circle cx="363.2" cy="207.8" r="1.6" fill="#000"/>
<circle cx="366.8" cy="208.8" r="1.6" fill="#000"/>
<circle cx="364.7" cy="211" r="1.6" fill="#000"/>
<path d="M361.68 207.7H370.47" stroke="#000" stroke-width="1.0"/>
<circle cx="378" cy="207.3" r="1.2" fill="#fff" stroke="#000" stroke-width="1.1"/>
<circle cx="376.4" cy="209.7" r="1.2" fill="#fff" stroke="#000" stroke-width="1.1"/>
<circle cx="378.8" cy="209.7" r="1.2" fill="#fff" stroke="#000" stroke-width="1.1"/>
<circle cx="380.4" cy="210.5" r="1.2" fill="#fff" stroke="#000" stroke-width="1.1"/>
<circle cx="377.2" cy="211.3" r="1.2" fill="#fff" stroke="#000" stroke-width="1.1"/>
<path d="M374.23 210H383.02" stroke="#000" stroke-width="1.0"/>
<circle cx="390.5" cy="204.1" r="1.6" fill="#000"/>
<circle cx="386" cy="211.6" r="1.6" fill="#000"/>
<circle cx="388.4" cy="212" r="1.6" fill="#000"/>
<circle cx="392.4" cy="212" r="1.6" fill="#000"/>
<circle cx="390.5" cy="215.3" r="1.6" fill="#000"/>
<circle cx="392.4" cy="214.8" r="1.6" fill="#000"/>
<path d="M386.78 211.6H395.57" stroke="#000" stroke-width="1.0"/>
<circle cx="398.5" cy="186.9" r="1.2" fill="#fff" stroke="#000" stroke-width="1.1"/>
<circle cx="403.2" cy="189.3" r="1.2" fill="#fff" stroke="#000" stroke-width="1.1"/>
<circle cx="403.2" cy="199.7" r="1.2" fill="#fff" stroke="#000" stroke-width="1.1"/>
<circle cx="405" cy="199" r="1.2" fill="#fff" stroke="#000" stroke-width="1.1"/>
<circle cx="403.2" cy="206.8" r="1.2" fill="#fff" stroke="#000" stroke-width="1.1"/>
<circle cx="403.2" cy="213.2" r="1.2" fill="#fff" stroke="#000" stroke-width="1.1"/>
<path d="M399.33 198.9H408.12" stroke="#000" stroke-width="1.0"/>
<circle cx="403.2" cy="174.1" r="1.25" fill="#000"/>
<text x="436.6" y="138.4" font-size="11.4" >F</text>
<text transform="translate(442.2 183.3) rotate(-90)" font-size="6.5" text-anchor="middle" textLength="57.5" lengthAdjust="spacingAndGlyphs">Cell frequency in BM</text>
<text transform="translate(451.2 180.6) rotate(-90)" font-size="6.5" text-anchor="middle" textLength="35" lengthAdjust="spacingAndGlyphs">(% of total)</text>
<path d="M463.5 141.3V218.4H521" fill="none" stroke="#000" stroke-width="1.7"/>
<path d="M460.2 218.4H463.5M460.2 192.9H463.5M460.2 167.4H463.5M460.2 141.9H463.5M470.35 218.4V221.7M484.05 218.4V221.7M497.75 218.4V221.7M511.45 218.4V221.7" fill="none" stroke="#000" stroke-width="1.7"/>
<text x="459.9" y="220.7" font-size="5.7" text-anchor="end">0</text>
<text x="459.9" y="195.2" font-size="5.7" text-anchor="end">25</text>
<text x="459.9" y="169.7" font-size="5.7" text-anchor="end">50</text>
<text x="459.9" y="144.2" font-size="5.7" text-anchor="end">75</text>
<text transform="translate(472.35 227.4) rotate(-45)" font-size="5.9" text-anchor="end">(+/+) granulo</text>
<text transform="translate(486.05 227.4) rotate(-45)" font-size="5.9" text-anchor="end">(-/-) granulo</text>
<text transform="translate(499.75 227.4) rotate(-45)" font-size="5.9" text-anchor="end">(+/+) mono</text>
<text transform="translate(513.45 227.4) rotate(-45)" font-size="5.9" text-anchor="end">(-/-) mono</text>
<circle cx="470.8" cy="164.8" r="1.6" fill="#000"/>
<circle cx="470.8" cy="174.5" r="1.6" fill="#000"/>
<circle cx="467.2" cy="179.8" r="1.6" fill="#000"/>
<circle cx="470.8" cy="182" r="1.6" fill="#000"/>
<circle cx="472.5" cy="181" r="1.6" fill="#000"/>
<circle cx="470.8" cy="186.9" r="1.6" fill="#000"/>
<circle cx="470.8" cy="192.3" r="1.6" fill="#000"/>
<path d="M465.6 179.8H475.1" stroke="#000" stroke-width="1.0"/>
<circle cx="484.3" cy="187.8" r="1.2" fill="#fff" stroke="#000" stroke-width="1.1"/>
<circle cx="481.5" cy="195.9" r="1.2" fill="#fff" stroke="#000" stroke-width="1.1"/>
<circle cx="484.3" cy="197" r="1.2" fill="#fff" stroke="#000" stroke-width="1.1"/>
<circle cx="486.5" cy="200.2" r="1.2" fill="#fff" stroke="#000" stroke-width="1.1"/>
<circle cx="484.3" cy="202.8" r="1.2" fill="#fff" stroke="#000" stroke-width="1.1"/>
<path d="M479.3 197H488.8" stroke="#000" stroke-width="1.0"/>
<circle cx="482.4" cy="176.6" r="1.25" fill="#000"/>
<circle cx="486.2" cy="176.6" r="1.25" fill="#000"/>
<circle cx="497.6" cy="194.9" r="1.6" fill="#000"/>
<circle cx="494" cy="200.2" r="1.6" fill="#000"/>
<circle cx="497.6" cy="200.2" r="1.6" fill="#000"/>
<circle cx="495" cy="207.7" r="1.6" fill="#000"/>
<circle cx="498.3" cy="208.4" r="1.6" fill="#000"/>
<circle cx="500.4" cy="207.7" r="1.6" fill="#000"/>
<path d="M493 202.8H502.5" stroke="#000" stroke-width="1.0"/>
<circle cx="514.4" cy="199.2" r="1.2" fill="#fff" stroke="#000" stroke-width="1.1"/>
<circle cx="509" cy="202" r="1.2" fill="#fff" stroke="#000" stroke-width="1.1"/>
<circle cx="512.2" cy="203.5" r="1.2" fill="#fff" stroke="#000" stroke-width="1.1"/>
<circle cx="511.2" cy="207.7" r="1.2" fill="#fff" stroke="#000" stroke-width="1.1"/>
<circle cx="514.4" cy="207.1" r="1.2" fill="#fff" stroke="#000" stroke-width="1.1"/>
<path d="M506.7 204.1H516.2" stroke="#000" stroke-width="1.0"/>
<text x="0" y="278.6" font-size="11.4" >G</text>
<text transform="translate(8.1 323.6) rotate(-90)" font-size="6.85" text-anchor="middle" textLength="65.2" lengthAdjust="spacingAndGlyphs">% proliferating cells</text>
<path d="M24.8 281.4V365.7H134.6" fill="none" stroke="#000" stroke-width="1.7"/>
<path d="M21.5 365.7H24.8M21.5 348.96H24.8M21.5 332.22H24.8M21.5 315.48H24.8M21.5 298.74H24.8M21.5 282H24.8M30.29 365.7V369M41.27 365.7V369M52.25 365.7V369M63.23 365.7V369M74.21 365.7V369M85.19 365.7V369M96.17 365.7V369M107.15 365.7V369M118.13 365.7V369M129.11 365.7V369" fill="none" stroke="#000" stroke-width="1.7"/>
<text x="21.2" y="368" font-size="5.7" text-anchor="end">0</text>
<text x="21.2" y="351.26" font-size="5.7" text-anchor="end">10</text>
<text x="21.2" y="334.52" font-size="5.7" text-anchor="end">20</text>
<text x="21.2" y="317.78" font-size="5.7" text-anchor="end">30</text>
<text x="21.2" y="301.04" font-size="5.7" text-anchor="end">40</text>
<text x="21.2" y="284.3" font-size="5.7" text-anchor="end">50</text>
<text transform="translate(32.29 374.7) rotate(-45)" font-size="6.1" text-anchor="end">(+/+) KLS</text>
<text transform="translate(43.27 374.7) rotate(-45)" font-size="6.1" text-anchor="end">(-/-) KLS</text>
<text transform="translate(54.25 374.7) rotate(-45)" font-size="6.1" text-anchor="end">(+/+) LT-HSC</text>
<text transform="translate(65.23 374.7) rotate(-45)" font-size="6.1" text-anchor="end">(-/-) LT-HSC</text>
<text transform="translate(76.21 374.7) rotate(-45)" font-size="6.1" text-anchor="end">(+/+) MPP1</text>
<text transform="translate(87.19 374.7) rotate(-45)" font-size="6.1" text-anchor="end">(-/-) MPP1</text>
<text transform="translate(98.17 374.7) rotate(-45)" font-size="6.1" text-anchor="end">(+/+) MPP2</text>
<text transform="translate(109.15 374.7) rotate(-45)" font-size="6.1" text-anchor="end">(-/-) MPP2</text>
<text transform="translate(120.13 374.7) rotate(-45)" font-size="6.1" text-anchor="end">(+/+) GMLP</text>
<text transform="translate(131.11 374.7) rotate(-45)" font-size="6.1" text-anchor="end">(-/-) GMLP</text>
<circle cx="25.7" cy="335.2" r="1.6" fill="#000"/>
<circle cx="30.7" cy="331" r="1.6" fill="#000"/>
<circle cx="30.7" cy="339.9" r="1.6" fill="#000"/>
<circle cx="31" cy="346.1" r="1.6" fill="#000"/>
<circle cx="33.9" cy="334.9" r="1.6" fill="#000"/>
<path d="M26.39 337.2H34.19" stroke="#000" stroke-width="1.0"/>
<circle cx="36.9" cy="334.6" r="1.2" fill="#fff" stroke="#000" stroke-width="1.1"/>
<circle cx="41.3" cy="336.4" r="1.2" fill="#fff" stroke="#000" stroke-width="1.1"/>
<circle cx="41.3" cy="342" r="1.2" fill="#fff" stroke="#000" stroke-width="1.1"/>
<path d="M37.37 337.8H45.17" stroke="#000" stroke-width="1.0"/>
<circle cx="47.4" cy="331.6" r="1.6" fill="#000"/>
<circle cx="52.6" cy="331.6" r="1.6" fill="#000"/>
<circle cx="50" cy="335.7" r="1.6" fill="#000"/>
<circle cx="52.6" cy="337" r="1.6" fill="#000"/>
<circle cx="55.2" cy="337.4" r="1.6" fill="#000"/>
<path d="M48.35 336.3H56.15" stroke="#000" stroke-width="1.0"/>
<circle cx="52" cy="318.7" r="1.25" fill="#000"/>
<circle cx="55.8" cy="318.7" r="1.25" fill="#000"/>
<circle cx="63.4" cy="348.9" r="1.2" fill="#fff" stroke="#000" stroke-width="1.1"/>
<circle cx="61" cy="352.9" r="1.2" fill="#fff" stroke="#000" stroke-width="1.1"/>
<circle cx="65" cy="352.9" r="1.2" fill="#fff" stroke="#000" stroke-width="1.1"/>
<circle cx="63.4" cy="355.9" r="1.2" fill="#fff" stroke="#000" stroke-width="1.1"/>
<path d="M59.33 352.9H67.13" stroke="#000" stroke-width="1.0"/>
<circle cx="74.3" cy="283.1" r="1.6" fill="#000"/>
<circle cx="76.6" cy="300.6" r="1.6" fill="#000"/>
<circle cx="74.3" cy="311.7" r="1.6" fill="#000"/>
<circle cx="74.3" cy="320.3" r="1.6" fill="#000"/>
<path d="M70.31 304.3H78.11" stroke="#000" stroke-width="1.0"/>
<circle cx="83.6" cy="314" r="1.2" fill="#fff" stroke="#000" stroke-width="1.1"/>
<circle cx="86" cy="315.5" r="1.2" fill="#fff" stroke="#000" stroke-width="1.1"/>
<circle cx="82.5" cy="318" r="1.2" fill="#fff" stroke="#000" stroke-width="1.1"/>
<circle cx="85" cy="318" r="1.2" fill="#fff" stroke="#000" stroke-width="1.1"/>
<circle cx="87.5" cy="318" r="1.2" fill="#fff" stroke="#000" stroke-width="1.1"/>
<path d="M81.29 316.4H89.09" stroke="#000" stroke-width="1.0"/>
<circle cx="95.9" cy="299.4" r="1.6" fill="#000"/>
<circle cx="95.9" cy="307.5" r="1.6" fill="#000"/>
<circle cx="95.9" cy="314.5" r="1.6" fill="#000"/>
<circle cx="95.9" cy="332.2" r="1.6" fill="#000"/>
<path d="M92.27 312.9H100.07" stroke="#000" stroke-width="1.0"/>
<circle cx="101.7" cy="312.8" r="1.2" fill="#fff" stroke="#000" stroke-width="1.1"/>
<circle cx="106.9" cy="312.8" r="1.2" fill="#fff" stroke="#000" stroke-width="1.1"/>
<circle cx="108.7" cy="312.8" r="1.2" fill="#fff" stroke="#000" stroke-width="1.1"/>
<circle cx="108.7" cy="320.2" r="1.2" fill="#fff" stroke="#000" stroke-width="1.1"/>
<circle cx="106.6" cy="324.9" r="1.2" fill="#fff" stroke="#000" stroke-width="1.1"/>
<path d="M103.25 317.1H111.05" stroke="#000" stroke-width="1.0"/>
<circle cx="117.3" cy="321.4" r="1.6" fill="#000"/>
<circle cx="117.3" cy="327.8" r="1.6" fill="#000"/>
<circle cx="117.3" cy="336.1" r="1.6" fill="#000"/>
<path d="M114.23 328.4H122.03" stroke="#000" stroke-width="1.0"/>
<circle cx="123.4" cy="316.8" r="1.2" fill="#fff" stroke="#000" stroke-width="1.1"/>
<circle cx="128" cy="317.5" r="1.2" fill="#fff" stroke="#000" stroke-width="1.1"/>
<circle cx="128" cy="327.8" r="1.2" fill="#fff" stroke="#000" stroke-width="1.1"/>
<path d="M125.21 320.9H133.01" stroke="#000" stroke-width="1.0"/>
<text x="139.3" y="279.1" font-size="11.4" >H</text>
<text transform="translate(157.3 324) rotate(-90)" font-size="6.85" text-anchor="middle" textLength="60.7" lengthAdjust="spacingAndGlyphs">%Annexin V+ cells</text>
<path d="M173.1 281.4V365.5H282" fill="none" stroke="#000" stroke-width="1.7"/>
<path d="M169.8 365.5H173.1M169.8 351.58H173.1M169.8 337.67H173.1M169.8 323.75H173.1M169.8 309.83H173.1M169.8 295.92H173.1M169.8 282H173.1M178.54 365.5V368.8M189.44 365.5V368.8M200.32 365.5V368.8M211.22 365.5V368.8M222.1 365.5V368.8M233 365.5V368.8M243.88 365.5V368.8M254.78 365.5V368.8M265.66 365.5V368.8M276.56 365.5V368.8" fill="none" stroke="#000" stroke-width="1.7"/>
<text x="169.5" y="367.8" font-size="5.7" text-anchor="end">0</text>
<text x="169.5" y="353.88" font-size="5.7" text-anchor="end">10</text>
<text x="169.5" y="339.97" font-size="5.7" text-anchor="end">20</text>
<text x="169.5" y="326.05" font-size="5.7" text-anchor="end">30</text>
<text x="169.5" y="312.13" font-size="5.7" text-anchor="end">40</text>
<text x="169.5" y="298.22" font-size="5.7" text-anchor="end">50</text>
<text x="169.5" y="284.3" font-size="5.7" text-anchor="end">60</text>
<text transform="translate(180.54 374.5) rotate(-45)" font-size="6.1" text-anchor="end">(+/+) KLS</text>
<text transform="translate(191.44 374.5) rotate(-45)" font-size="6.1" text-anchor="end">(-/-) KLS</text>
<text transform="translate(202.32 374.5) rotate(-45)" font-size="6.1" text-anchor="end">(+/+) LT-HSC</text>
<text transform="translate(213.22 374.5) rotate(-45)" font-size="6.1" text-anchor="end">(-/-) LT-HSC</text>
<text transform="translate(224.1 374.5) rotate(-45)" font-size="6.1" text-anchor="end">(+/+) MPP1</text>
<text transform="translate(235 374.5) rotate(-45)" font-size="6.1" text-anchor="end">(-/-) MPP1</text>
<text transform="translate(245.88 374.5) rotate(-45)" font-size="6.1" text-anchor="end">(+/+) MPP2</text>
<text transform="translate(256.77 374.5) rotate(-45)" font-size="6.1" text-anchor="end">(-/-) MPP2</text>
<text transform="translate(267.66 374.5) rotate(-45)" font-size="6.1" text-anchor="end">(+/+) GMLP</text>
<text transform="translate(278.56 374.5) rotate(-45)" font-size="6.1" text-anchor="end">(-/-) GMLP</text>
<circle cx="173.6" cy="340.6" r="1.6" fill="#000"/>
<circle cx="178.5" cy="342.5" r="1.6" fill="#000"/>
<circle cx="178.5" cy="350.6" r="1.6" fill="#000"/>
<path d="M174.64 344.8H182.44" stroke="#000" stroke-width="1.0"/>
<circle cx="189.4" cy="341.1" r="1.2" fill="#fff" stroke="#000" stroke-width="1.1"/>
<circle cx="192.4" cy="347.6" r="1.2" fill="#fff" stroke="#000" stroke-width="1.1"/>
<circle cx="188.9" cy="353.4" r="1.2" fill="#fff" stroke="#000" stroke-width="1.1"/>
<path d="M185.53 347.1H193.34" stroke="#000" stroke-width="1.0"/>
<circle cx="195.2" cy="320.9" r="1.6" fill="#000"/>
<circle cx="199.8" cy="322.1" r="1.6" fill="#000"/>
<circle cx="199.8" cy="327.9" r="1.6" fill="#000"/>
<path d="M196.42 323.9H204.22" stroke="#000" stroke-width="1.0"/>
<circle cx="210.9" cy="337.9" r="1.2" fill="#fff" stroke="#000" stroke-width="1.1"/>
<circle cx="213.7" cy="341.1" r="1.2" fill="#fff" stroke="#000" stroke-width="1.1"/>
<circle cx="210.9" cy="346" r="1.2" fill="#fff" stroke="#000" stroke-width="1.1"/>
<path d="M207.31 341.3H215.12" stroke="#000" stroke-width="1.0"/>
<circle cx="210.9" cy="325.1" r="1.25" fill="#000"/>
<circle cx="221.8" cy="333.2" r="1.6" fill="#000"/>
<circle cx="221.8" cy="340.2" r="1.6" fill="#000"/>
<circle cx="221.8" cy="346.9" r="1.6" fill="#000"/>
<path d="M218.2 340.2H226" stroke="#000" stroke-width="1.0"/>
<circle cx="232.3" cy="333.7" r="1.2" fill="#fff" stroke="#000" stroke-width="1.1"/>
<circle cx="234.6" cy="337.9" r="1.2" fill="#fff" stroke="#000" stroke-width="1.1"/>
<circle cx="232.3" cy="342.3" r="1.2" fill="#fff" stroke="#000" stroke-width="1.1"/>
<path d="M229.09 337.9H236.9" stroke="#000" stroke-width="1.0"/>
<circle cx="243.4" cy="290.1" r="1.6" fill="#000"/>
<circle cx="243.4" cy="297.7" r="1.6" fill="#000"/>
<circle cx="243.4" cy="320.2" r="1.6" fill="#000"/>
<path d="M239.98 302.4H247.78" stroke="#000" stroke-width="1.0"/>
<circle cx="249.2" cy="324.2" r="1.2" fill="#fff" stroke="#000" stroke-width="1.1"/>
<circle cx="254.1" cy="328" r="1.2" fill="#fff" stroke="#000" stroke-width="1.1"/>
<circle cx="254.1" cy="333.2" r="1.2" fill="#fff" stroke="#000" stroke-width="1.1"/>
<path d="M250.88 328.7H258.68" stroke="#000" stroke-width="1.0"/>
<circle cx="262.6" cy="357.4" r="1.6" fill="#000"/>
<circle cx="264.5" cy="359.2" r="1.6" fill="#000"/>
<circle cx="267.2" cy="359.2" r="1.6" fill="#000"/>
<circle cx="265.2" cy="360.5" r="1.6" fill="#000"/>
<path d="M261.76 358.6H269.56" stroke="#000" stroke-width="1.0"/>
<circle cx="275.5" cy="354.3" r="1.2" fill="#fff" stroke="#000" stroke-width="1.1"/>
<circle cx="277.9" cy="356.6" r="1.2" fill="#fff" stroke="#000" stroke-width="1.1"/>
<circle cx="275.5" cy="361.2" r="1.2" fill="#fff" stroke="#000" stroke-width="1.1"/>
<path d="M272.66 357.1H280.45" stroke="#000" stroke-width="1.0"/>
<text x="292.8" y="279.1" font-size="11.4" >I</text>
<text transform="translate(299.5 327.5) rotate(-90)" font-size="7" text-anchor="middle" textLength="29.5" lengthAdjust="spacingAndGlyphs"># colonies</text>
<path d="M314.5 287.8V365.7H408" fill="none" stroke="#000" stroke-width="1.7"/>
<path d="M311.2 365.7H314.5M311.2 350.24H314.5M311.2 334.78H314.5M311.2 319.32H314.5M311.2 303.86H314.5M311.2 288.4H314.5M322.29 365.7V369M337.88 365.7V369M353.46 365.7V369M369.04 365.7V369M384.62 365.7V369M400.21 365.7V369" fill="none" stroke="#000" stroke-width="1.7"/>
<text x="310.9" y="368" font-size="5.7" text-anchor="end">0</text>
<text x="310.9" y="352.54" font-size="5.7" text-anchor="end">25</text>
<text x="310.9" y="337.08" font-size="5.7" text-anchor="end">50</text>
<text x="310.9" y="321.62" font-size="5.7" text-anchor="end">75</text>
<text x="310.9" y="306.16" font-size="5.7" text-anchor="end">100</text>
<text x="310.9" y="290.7" font-size="5.7" text-anchor="end">125</text>
<text transform="translate(324.29 374.7) rotate(-45)" font-size="6.05" text-anchor="end">Galc+/+ w Cks</text>
<text transform="translate(339.88 374.7) rotate(-45)" font-size="6.05" text-anchor="end">Galc-/- w Cks</text>
<text transform="translate(355.46 374.7) rotate(-45)" font-size="6.05" text-anchor="end">Galc+/+ w/o Cks</text>
<text transform="translate(371.04 374.7) rotate(-45)" font-size="6.05" text-anchor="end">Galc-/- w/o Cks</text>
<text transform="translate(386.62 374.7) rotate(-45)" font-size="6.05" text-anchor="end">Arsa+/+ w Cks</text>
<text transform="translate(402.21 374.7) rotate(-45)" font-size="6.05" text-anchor="end">Arsa-/- w Cks</text>
<path d="M322.7 294.6V307.3M322.7 317.3V319.3M319.9 294.6H325.51M319.9 319.3H325.51" stroke="#000" stroke-width="1.1" fill="none"/>
<rect x="317.6" y="307.3" width="10.2" height="10" fill="#404040" stroke="#000" stroke-width="1.1"/>
<path d="M317.6 311.9H327.8" stroke="#000" stroke-width="0.9"/>
<path d="M338.2 322.2V328.4M338.2 332.8V334.9M335.18 322.2H341.22M335.18 334.9H341.22" stroke="#000" stroke-width="1.1" fill="none"/>
<rect x="332.7" y="328.4" width="11" height="4.4" fill="#d0d0d0" stroke="#000" stroke-width="1.1"/>
<path d="M332.7 330.3H343.7" stroke="#000" stroke-width="0.9"/>
<circle cx="336.1" cy="313" r="1.25" fill="#000"/>
<circle cx="339.9" cy="313" r="1.25" fill="#000"/>
<path d="M353.55 313.4V317.3M353.55 334.5V336.3M350.61 313.4H356.49M350.61 336.3H356.49" stroke="#000" stroke-width="1.1" fill="none"/>
<rect x="348.2" y="317.3" width="10.7" height="17.2" fill="#404040" stroke="#000" stroke-width="1.1"/>
<path d="M348.2 326.7H358.9" stroke="#000" stroke-width="0.9"/>
<path d="M369.05 335.6V335.6M369.05 340.8V341.4M365.94 335.6H372.16M365.94 341.4H372.16" stroke="#000" stroke-width="1.1" fill="none"/>
<rect x="363.4" y="335.6" width="11.3" height="5.2" fill="#9a9a9a" stroke="#000" stroke-width="1.1"/>
<path d="M363.4 338H374.7" stroke="#000" stroke-width="0.9"/>
<circle cx="368" cy="328.8" r="1.25" fill="#000"/>
<path d="M384.35 302.5V303.3M384.35 317.7V320.3M381.41 302.5H387.29M381.41 320.3H387.29" stroke="#000" stroke-width="1.1" fill="none"/>
<rect x="379" y="303.3" width="10.7" height="14.4" fill="#2e2e2e" stroke="#000" stroke-width="1.1"/>
<path d="M379 303.8H389.7" stroke="#000" stroke-width="0.9"/>
<path d="M399.35 298.6V303.6M399.35 316.6V318.1M396.52 298.6H402.18M396.52 318.1H402.18" stroke="#000" stroke-width="1.1" fill="none"/>
<rect x="394.2" y="303.6" width="10.3" height="13" fill="#ededed" stroke="#000" stroke-width="1.1"/>
<path d="M394.2 311.5H404.5" stroke="#000" stroke-width="1.4"/>
<text x="429.5" y="279.1" font-size="11.4" >J</text>
<text transform="translate(435.6 326.8) rotate(-90)" font-size="7" text-anchor="middle" textLength="30.5" lengthAdjust="spacingAndGlyphs"># colonies</text>
<path d="M450.8 287.4V365.5H521" fill="none" stroke="#000" stroke-width="1.7"/>
<path d="M447.5 365.5H450.8M447.5 350H450.8M447.5 334.5H450.8M447.5 319H450.8M447.5 303.5H450.8M447.5 288H450.8M462 365.5V368.8M484.4 365.5V368.8M506.8 365.5V368.8" fill="none" stroke="#000" stroke-width="1.7"/>
<text x="447.2" y="367.8" font-size="5.7" text-anchor="end">0</text>
<text x="447.2" y="352.3" font-size="5.7" text-anchor="end">25</text>
<text x="447.2" y="336.8" font-size="5.7" text-anchor="end">50</text>
<text x="447.2" y="321.3" font-size="5.7" text-anchor="end">75</text>
<text x="447.2" y="305.8" font-size="5.7" text-anchor="end">100</text>
<text x="447.2" y="290.3" font-size="5.7" text-anchor="end">125</text>
<text transform="translate(464 374.5) rotate(-45)" font-size="5.9" text-anchor="end">n.d. BM</text>
<text transform="translate(486.4 374.5) rotate(-45)" font-size="5.9" text-anchor="end">GLD pt BM</text>
<text transform="translate(508.8 374.5) rotate(-45)" font-size="5.9" text-anchor="end">MLD pt BM</text>
<path d="M462.1 294.3V304.2M462.1 322V323.2M457.92 294.3H466.28M457.92 323.2H466.28" stroke="#000" stroke-width="1.1" fill="none"/>
<rect x="454.5" y="304.2" width="15.2" height="17.8" fill="#3a3a3a" stroke="#000" stroke-width="1.1"/>
<path d="M454.5 319.8H469.7" stroke="#000" stroke-width="0.9"/>
<path d="M480.8 325H488M476.8 327.3H491.9M480.8 328.8H488M484.4 325V328.8" stroke="#000" stroke-width="1" fill="none"/>
<circle cx="484.4" cy="315.8" r="1.25" fill="#000"/>
<path d="M507.2 296.1V301.5M507.2 322V322.5M503.08 296.1H511.33M503.08 322.5H511.33" stroke="#000" stroke-width="1.1" fill="none"/>
<rect x="499.7" y="301.5" width="15" height="20.5" fill="#e2e2e2" stroke="#000" stroke-width="1.1"/>
<path d="M499.7 313.9H514.7" stroke="#000" stroke-width="1.5"/>
</g></svg>
</body></html>
